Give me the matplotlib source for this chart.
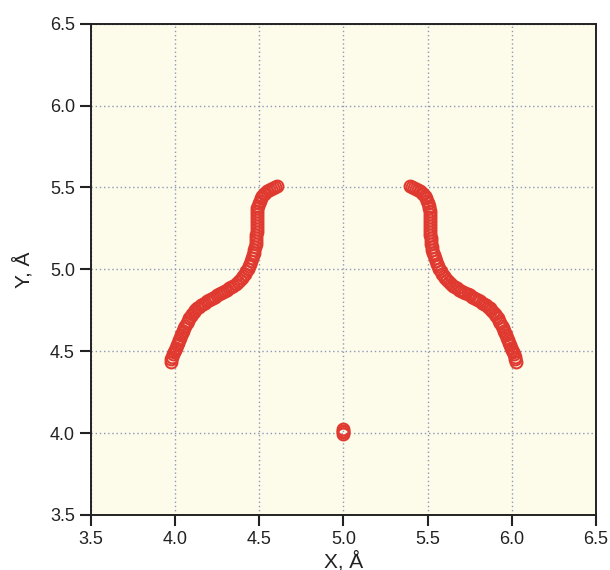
import numpy as np
import matplotlib.pyplot as plt

plt.rcParams['font.family'] = ['Liberation Sans', 'DejaVu Sans']

# left branch
left_x = [3.973, 3.978, 3.983, 3.988, 3.993, 3.998, 4.004, 4.010, 4.016, 4.022,
          4.028, 4.034, 4.040, 4.047, 4.054, 4.061, 4.068, 4.076, 4.084, 4.092,
          4.101, 4.111, 4.121, 4.132, 4.143, 4.155, 4.167, 4.179, 4.191, 4.203,
          4.215, 4.227, 4.239, 4.251, 4.263, 4.275, 4.287, 4.299, 4.311, 4.323,
          4.335, 4.347, 4.359, 4.371, 4.383, 4.395,
          4.405, 4.414, 4.423, 4.431, 4.438, 4.445, 4.451, 4.457, 4.462, 4.467,
          4.471, 4.475, 4.478,
          4.480, 4.482, 4.483, 4.484, 4.484, 4.484, 4.484, 4.485, 4.485, 4.486,
          4.487, 4.489,
          4.492, 4.496, 4.502, 4.509, 4.517, 4.526, 4.536, 4.547, 4.558, 4.570,
          4.582, 4.594, 4.603]
left_y = [4.437, 4.452, 4.466, 4.480, 4.493, 4.506, 4.521, 4.536, 4.551, 4.566,
          4.581, 4.596, 4.611, 4.626, 4.641, 4.656, 4.671, 4.686, 4.700, 4.714,
          4.729, 4.741, 4.752, 4.762, 4.771, 4.780, 4.788, 4.796, 4.804, 4.812,
          4.820, 4.827, 4.834, 4.841, 4.848, 4.855, 4.862, 4.869, 4.876, 4.884,
          4.892, 4.901, 4.911, 4.922, 4.934, 4.947,
          4.960, 4.974, 4.989, 5.004, 5.019, 5.035, 5.051, 5.068, 5.085, 5.102,
          5.120, 5.138, 5.156,
          5.174, 5.192, 5.210, 5.228, 5.246, 5.264, 5.282, 5.300, 5.318, 5.336,
          5.354, 5.372,
          5.389, 5.405, 5.420, 5.434, 5.447, 5.459, 5.469, 5.478, 5.486, 5.492,
          5.498, 5.503, 5.506]

# right branch
right_x = [6.027, 6.022, 6.017, 6.012, 6.007, 6.002, 5.996, 5.990, 5.984, 5.978,
           5.972, 5.966, 5.960, 5.953, 5.946, 5.939, 5.932, 5.924, 5.916, 5.908,
           5.899, 5.889, 5.879, 5.868, 5.857, 5.845, 5.833, 5.821, 5.809, 5.797,
           5.785, 5.773, 5.761, 5.749, 5.737, 5.725, 5.713, 5.701, 5.689, 5.677,
           5.665, 5.653, 5.641, 5.629, 5.617, 5.605,
           5.595, 5.586, 5.577, 5.569, 5.562, 5.555, 5.549, 5.543, 5.538, 5.533,
           5.529, 5.525, 5.522,
           5.520, 5.518, 5.517, 5.516, 5.516, 5.516, 5.516, 5.515, 5.515, 5.514,
           5.513, 5.511,
           5.508, 5.504, 5.498, 5.491, 5.483, 5.474, 5.464, 5.453, 5.442, 5.430,
           5.418, 5.406, 5.397]
right_y = [4.437, 4.452, 4.466, 4.480, 4.493, 4.506, 4.521, 4.536, 4.551, 4.566,
           4.581, 4.596, 4.611, 4.626, 4.641, 4.656, 4.671, 4.686, 4.700, 4.714,
           4.729, 4.741, 4.752, 4.762, 4.771, 4.780, 4.788, 4.796, 4.804, 4.812,
           4.820, 4.827, 4.834, 4.841, 4.848, 4.855, 4.862, 4.869, 4.876, 4.884,
           4.892, 4.901, 4.911, 4.922, 4.934, 4.947,
           4.960, 4.974, 4.989, 5.004, 5.019, 5.035, 5.051, 5.068, 5.085, 5.102,
           5.120, 5.138, 5.156,
           5.174, 5.192, 5.210, 5.228, 5.246, 5.264, 5.282, 5.300, 5.318, 5.336,
           5.354, 5.372,
           5.389, 5.405, 5.420, 5.434, 5.447, 5.459, 5.469, 5.478, 5.486, 5.492,
           5.498, 5.503, 5.506]

# centre cluster
center_x = [5.0, 5.0, 5.0, 5.0]
center_y = [3.995, 4.005, 4.015, 4.025]

ticks = [3.5, 4.0, 4.5, 5.0, 5.5, 6.0, 6.5]

fig = plt.figure(figsize=(6.1, 5.7), dpi=100)
ax = fig.add_axes([0.149, 0.0965, 0.828, 0.862])
ax.set_facecolor('#fdfbea')

red = '#e03a30'
for xs, ys in [(left_x, left_y), (right_x, right_y), (center_x, center_y)]:
    ax.plot(xs, ys, 'o', mfc='none', mec=red, ms=8.5, mew=1.5, zorder=3)

ax.set_xlim(3.5, 6.5)
ax.set_ylim(3.5, 6.5)
ax.set_xticks(ticks)
ax.set_yticks(ticks)
ax.set_xticklabels([f'{t:.1f}' for t in ticks])
ax.set_yticklabels([f'{t:.1f}' for t in ticks])
ax.tick_params(labelsize=13, length=8, width=1.5, color='#222222',
               labelcolor='#222222')

ax.grid(True, linestyle=(0, (1, 2)), color='#8f98bb', linewidth=1.0)
ax.set_axisbelow(True)
for s in ax.spines.values():
    s.set_linewidth(1.4)
    s.set_color('#222222')

ax.set_xlabel('X, Å', fontsize=15, labelpad=2, color='#222222')
ax.set_ylabel('Y, Å', fontsize=15, labelpad=12, color='#222222')

fig.savefig('out.png', dpi=100)
